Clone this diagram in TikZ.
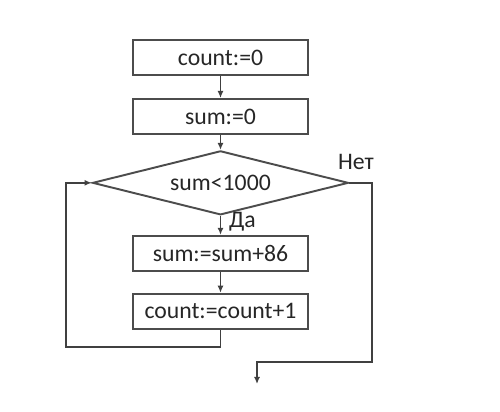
\documentclass[tikz,border=0pt]{standalone}
\usepackage{fontspec}
\setmainfont{Carlito}
\usepackage{tikz}
\usetikzlibrary{shapes.geometric,arrows.meta,positioning}

\begin{document}
\begin{tikzpicture}[x=0.02cm, y=-0.02cm, node distance=0.42cm,
        font=\fontsize{13.5}{16}\selectfont,
        opblock/.style={rectangle, draw=black!70, line width=1.1pt, text=black!85, minimum width=3.5cm, minimum height=0.7cm, inner sep=0pt},
        condblock/.style={diamond, draw=black!70, line width=1.1pt, text=black!85, aspect=4, minimum width=5.12cm, minimum height=1.28cm, inner sep=0pt},
        arrow/.style={-{Latex[length=4pt,width=3.5pt]}, draw=black!75, line width=1.1pt},
        line/.style={draw=black!75, line width=1.1pt}]

        \useasboundingbox (0,0) rectangle (500,412);

        % Operators
        \node[opblock] (c0) at (220.5,57.5) {count:=0};
        \node[opblock, below=0.44cm of c0] (s0) {sum:=0};
        \node[condblock, below=0.3cm of s0] (cond) {sum<1000};
        \node[opblock, below=0.38cm of cond] (sadd) {sum:=sum+86};
        \node[opblock, below=0.42cm of sadd] (cinc) {count:=count+1};

        % Loop corners
        \coordinate (loopL) at (66,347);
        \coordinate (noR) at (372,362);
        \coordinate (exitP) at (257,384);

        % Connections
        \draw[arrow] (c0) -- (s0);
        \draw[arrow] (s0) -- (cond);
        \draw[arrow] (cond) -- node[right=1pt, pos=0.3, text=black!85] {Да} (sadd);
        \draw[arrow] (sadd) -- (cinc);
        \draw[arrow] (cinc.south) |- (loopL) |- (cond.west);
        \draw[arrow] (cond.east) -| (noR) -| (exitP);
        \node[above right=4pt and 0pt of cond.east, anchor=south west, text=black!85, xshift=-10pt] (no) {Нет};
    \end{tikzpicture}
\end{document}
